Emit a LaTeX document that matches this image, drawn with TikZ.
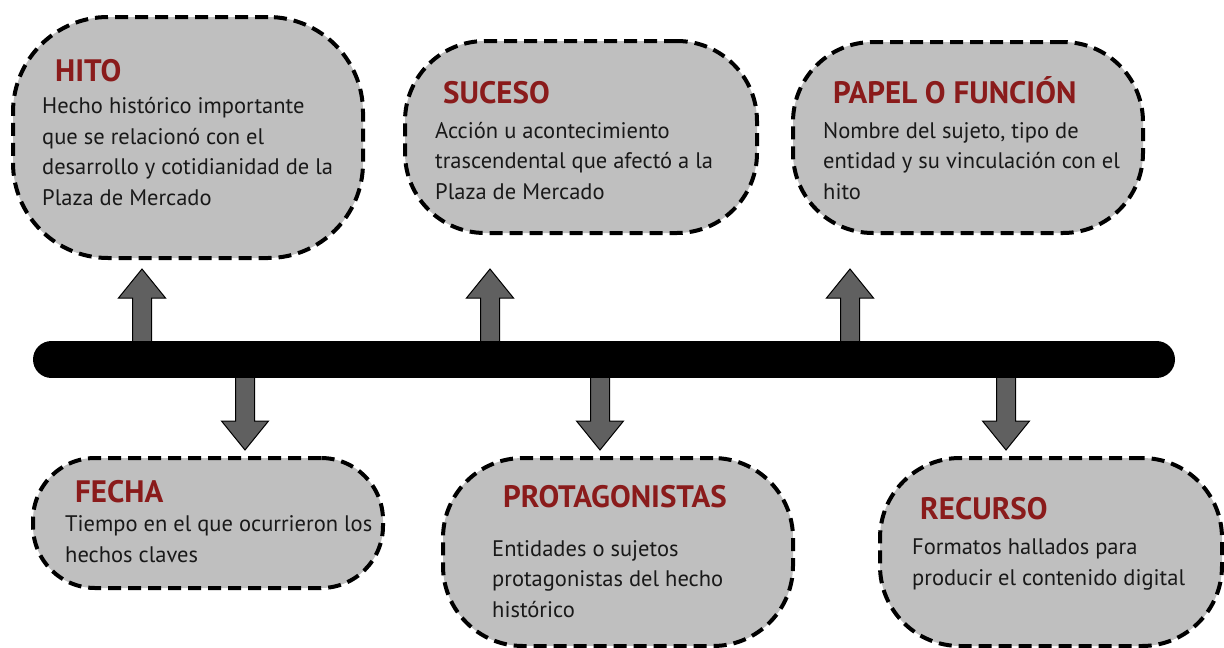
\documentclass[tikz,border=0pt]{standalone}
\usepackage{fontspec}
\setmainfont{PT Sans}
\usetikzlibrary{positioning}
\definecolor{boxgray}{HTML}{BFBFBF}
\definecolor{titlered}{HTML}{8A1B1B}
\definecolor{arrowgray}{HTML}{606060}

\begin{document}
\begin{tikzpicture}[
	x=1pt, y=-1pt,
	card/.style={draw, fill=boxgray, line width=4pt, dash pattern=on 13pt off 7pt, rounded corners=80pt},
	title/.style={anchor=base west, inner sep=0pt, text=titlered, font=\bfseries\fontsize{31}{34}\selectfont},
	body/.style={anchor=base west, inner sep=0pt, align=left, text=black!90, font=\fontsize{22.5}{30.5}\selectfont},
	timeline/.style={line width=37pt, line cap=round},
	blockarrow/.pic={\draw[fill=arrowgray, line width=1pt] (-9.5,3) -- (-9.5,-43) -- (-23.5,-43) -- (0,-72) -- (23.5,-43) -- (9.5,-43) -- (9.5,3) -- cycle;}
	]
	\useasboundingbox (0,0) rectangle (1224,648);

	% Boxes
	\node[card, minimum width=350, minimum height=241, rounded corners=95pt] (hito) at (188,137.5) {};
	\node[card, minimum width=352, minimum height=192] (suceso) at (581,137) {};
	\node[card, minimum width=350, minimum height=191] (papel) at (968,137.5) {};
	\node[card, minimum width=350, minimum height=130, rounded corners=62pt] (fecha) at (208,523) {};
	\node[card, minimum width=350, minimum height=188] (protag) at (618,552) {};
	\node[card, minimum width=342, minimum height=188] (recurso) at (1051,552) {};

	% Texts (body nodes sit on their last line)
	\node[title] (hitoT) at (55,81) {HITO};
	\node[body] (hitoB) at (42,205) {Hecho histórico importante\\que se relacionó con el\\desarrollo y cotidianidad de la\\Plaza de Mercado};
	\node[title] (sucesoT) at (443,103) {SUCESO};
	\node[body] (sucesoB) at (435,199) {Acción u acontecimiento\\trascendental que afectó a la\\Plaza de Mercado};
	\node[title] (papelT) at (833,103) {PAPEL O FUNCIÓN};
	\node[body] (papelB) at (823,199) {Nombre del sujeto, tipo de\\entidad y su vinculación con el\\hito};
	\node[title] (fechaT) at (75,502) {FECHA};
	\node[body] (fechaB) at (65,562) {Tiempo en el que ocurrieron los\\hechos claves};
	\node[title] (protagT) at (503,507) {PROTAGONISTAS};
	\node[body] (protagB) at (492,617) {Entidades o sujetos\\protagonistas del hecho\\histórico};
	\node[title] (recursoT) at (920,519) {RECURSO};
	\node[body] (recursoB) at (912,585) {Formatos hallados para\\producir el contenido digital};

	% Arrows
	\pic at (142,341) {blockarrow};
	\pic at (490,341) {blockarrow};
	\pic at (850,341) {blockarrow};
	\pic[rotate=180] at (245,378) {blockarrow};
	\pic[rotate=180] at (600,378) {blockarrow};
	\pic[rotate=180] at (1006,378) {blockarrow};

	% Timeline
	\coordinate (start) at (51.5,359.5);
	\coordinate (end) at (1156.5,359.5);
	\draw[timeline] (start) -- (end);
\end{tikzpicture}
\end{document}
